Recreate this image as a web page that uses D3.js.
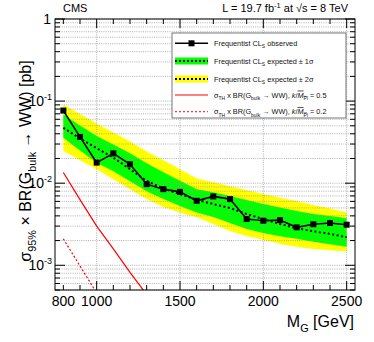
<!DOCTYPE html>
<html><head><meta charset="utf-8">
<script src="https://cdn.jsdelivr.net/npm/d3@7"></script>
<style>body{margin:0;background:#fff;} svg{display:block;font-family:"Liberation Sans",Arial,sans-serif;}</style>
</head><body>
<svg id="c" width="374" height="342"></svg>
<script>
const masses = [800,900,1000,1100,1200,1300,1400,1500,1600,1700,1800,1900,2000,2100,2200,2300,2400,2500];
const observed = [0.0767,0.0366,0.0178,0.0231,0.0170,0.00973,0.00846,0.00784,0.0061,0.0069,0.0064,0.00366,0.00349,0.00355,0.0029,0.00316,0.00327,0.00312];
const expected = [0.0473,0.0351,0.0266,0.0205,0.0148,0.01067,0.00863,0.00736,0.00628,0.00556,0.00498,0.00421,0.00366,0.00319,0.00282,0.0026,0.00241,0.0022];
const exp1Up = [0.0686,0.0505,0.0375,0.0297,0.0231,0.01747,0.01359,0.01072,0.00846,0.00778,0.00696,0.00622,0.00556,0.00505,0.00458,0.00421,0.00398,0.00373];
const exp1Down = [0.0358,0.0251,0.0178,0.01398,0.01057,0.0080,0.0064,0.00526,0.00441,0.00387,0.00327,0.00277,0.00248,0.00225,0.0021,0.00193,0.0018,0.00168];
const exp2Up = [0.0907,0.0696,0.0534,0.0415,0.0323,0.0244,0.0190,0.01478,0.0114,0.01028,0.0092,0.00823,0.00736,0.00667,0.00605,0.00541,0.00491,0.00441];
const exp2Down = [0.0246,0.0190,0.01478,0.01118,0.00846,0.0064,0.00512,0.00439,0.00384,0.00318,0.00262,0.00228,0.00204,0.00182,0.00168,0.00158,0.00152,0.00147];
const thMass05 = [800,900,1000,1100,1200,1300];
const theory05 = [0.0135,0.0063,0.0030,0.00158,0.00082,0.00044];
const thMass02 = [800,900,1000,1100];
const theory02 = [0.0021,0.00098,0.00046,0.00022];
const xTickLabels = [800,1000,1500,2000,2500];
const xGridTicks = [1000,1500,2000,2500];
const yTickLabels = [[1,""],[0.1,"-1"],[0.01,"-2"],[0.001,"-3"]];

const svg = d3.select("#c");
const L=55,R=355,T=19,B=290;
const x = d3.scaleLinear().domain([750,2550]).range([L,R]);
const y = d3.scaleLog().domain([5e-4,1]).range([B,T]);

const yMinor = [];
for (let e=-4;e<=0;e++) for (let m=1;m<10;m++){const v=m*Math.pow(10,e); if(v>=5e-4 && v<=1.0001) yMinor.push(v);}

svg.append("clipPath").attr("id","clip").append("rect").attr("x",L).attr("y",T).attr("width",R-L).attr("height",B-T);
const plot = svg.append("g").attr("clip-path","url(#clip)");
const idx = d3.range(masses.length);
const band = (lo,hi)=>d3.area().x(i=>x(masses[i])).y0(i=>y(lo[i])).y1(i=>y(hi[i]));
plot.append("path").attr("d",band(exp2Down,exp2Up)(idx)).attr("fill","#ffff00");
plot.append("path").attr("d",band(exp1Down,exp1Up)(idx)).attr("fill","#00ff00");

// grid (drawn over the bands, as in the reference)
const grid = svg.append("g").attr("stroke","#9a9a9a").attr("stroke-width",0.8).attr("stroke-dasharray","1,1.2");
grid.selectAll("line.h").data(yMinor).join("line").attr("x1",L).attr("x2",R).attr("y1",d=>y(d)).attr("y2",d=>y(d));
grid.selectAll("line.v").data(xGridTicks).join("line").attr("y1",T).attr("y2",B).attr("x1",d=>x(d)).attr("x2",d=>x(d));

const plot2 = svg.append("g").attr("clip-path","url(#clip)");
const line = (arr,ms)=>d3.line().x(i=>x(ms[i])).y(i=>y(arr[i]));
plot2.append("path").attr("d",line(expected,masses)(idx)).attr("fill","none").attr("stroke","#000").attr("stroke-width",2).attr("stroke-dasharray","2,2.5");
plot2.append("path").attr("d",line(theory05,thMass05)(d3.range(thMass05.length))).attr("fill","none").attr("stroke","#ff0000").attr("stroke-width",1.2);
plot2.append("path").attr("d",line(theory02,thMass02)(d3.range(thMass02.length))).attr("fill","none").attr("stroke","#ff0000").attr("stroke-width",1.2).attr("stroke-dasharray","2,2");
plot2.append("path").attr("d",line(observed,masses)(idx)).attr("fill","none").attr("stroke","#000").attr("stroke-width",1.6);
plot2.selectAll("rect.m").data(idx).join("rect").attr("x",i=>x(masses[i])-3).attr("y",i=>y(observed[i])-3).attr("width",6).attr("height",6).attr("fill","#000");

// frame
svg.append("rect").attr("x",L).attr("y",T).attr("width",R-L).attr("height",B-T).attr("fill","none").attr("stroke","#000").attr("stroke-width",1);

// ticks
const tk = svg.append("g").attr("stroke","#000").attr("stroke-width",1);
const xT = d3.range(800,2501,100);
xT.forEach(v=>{const len = (v%500===0)?9:5; const px=x(v);
  tk.append("line").attr("x1",px).attr("x2",px).attr("y1",B).attr("y2",B-len);
  tk.append("line").attr("x1",px).attr("x2",px).attr("y1",T).attr("y2",T+len);});
yMinor.forEach(v=>{const l=Math.log10(v); const major=Math.abs(l-Math.round(l))<1e-9; const len=major?10:5; const py=y(v);
  tk.append("line").attr("x1",L).attr("x2",L+len).attr("y1",py).attr("y2",py);
  tk.append("line").attr("x1",R).attr("x2",R-len).attr("y1",py).attr("y2",py);});

// tick labels
svg.selectAll("text.xl").data(xTickLabels).join("text").attr("x",d=>x(d)).attr("y",306).attr("text-anchor","middle").attr("font-size",14).text(d=>d);
yTickLabels.forEach(([v,sup])=>{
  const t = svg.append("text").attr("x",sup?52:51).attr("y",y(v)+5).attr("text-anchor","end").attr("font-size",14);
  if(!sup){t.text("1");} else {t.append("tspan").text("10"); t.append("tspan").attr("font-size",9).attr("dy",-6).text(sup);}
});

function rich(t, parts, size){
  let off=0;
  parts.forEach(p=>{
    let s = typeof p==="string"?{t:p}:p;
    const sp = t.append("tspan").text(s.t);
    let target=0;
    if(s.sub){ sp.attr("font-size",size*0.68); target=size*0.32; }
    if(s.sup){ sp.attr("font-size",size*0.68); target=-size*0.4; }
    if(s.i) sp.attr("font-style","italic");
    if(s.ol) sp.attr("text-decoration","overline");
    if(target!==off){ sp.attr("dy",target-off); off=target; }
  });
}

const xt = svg.append("text").attr("x",354).attr("y",327).attr("text-anchor","end").attr("font-size",16);
rich(xt,["M",{t:"G",sub:1}," [GeV]"],16);
const yt = svg.append("text").attr("transform","translate(31,161) rotate(-90)").attr("text-anchor","middle").attr("font-size",16);
rich(yt,["σ",{t:"95%",sub:1}," × BR(G",{t:"bulk",sub:1}," → WW) [pb]"],16);

svg.append("text").attr("x",63).attr("y",12).attr("font-size",11).text("CMS");
const hd = svg.append("text").attr("x",348).attr("y",12).attr("text-anchor","end").attr("font-size",11);
rich(hd,["L = 19.7 fb",{t:"-1",sup:1}," at  √s = 8 TeV"],11);

const lg = svg.append("g");
lg.append("rect").attr("x",172).attr("y",33).attr("width",174).attr("height",85).attr("fill","#fff").attr("stroke","#555").attr("stroke-width",0.8);
const rows=[43.3,61,79,95,111.7];
const x0=175,x1=208,tx=214,fs=7.3;
lg.append("line").attr("x1",x0).attr("x2",x1).attr("y1",rows[0]).attr("y2",rows[0]).attr("stroke","#000").attr("stroke-width",1.6);
lg.append("rect").attr("x",(x0+x1)/2-3).attr("y",rows[0]-3).attr("width",6).attr("height",6).attr("fill","#000");
[["#00ff00",rows[1]],["#ffff00",rows[2]]].forEach(([c,ry])=>{
  lg.append("rect").attr("x",x0).attr("y",ry-3.5).attr("width",x1-x0).attr("height",7).attr("fill",c);
  lg.append("line").attr("x1",x0).attr("x2",x1).attr("y1",ry).attr("y2",ry).attr("stroke","#000").attr("stroke-width",2).attr("stroke-dasharray","2,2");
});
lg.append("line").attr("x1",x0).attr("x2",x1).attr("y1",rows[3]).attr("y2",rows[3]).attr("stroke","#ff0000").attr("stroke-width",1);
lg.append("line").attr("x1",x0).attr("x2",x1).attr("y1",rows[4]).attr("y2",rows[4]).attr("stroke","#ff0000").attr("stroke-width",1).attr("stroke-dasharray","2,2");
const legTexts = [
  ["Frequentist CL",{t:"S",sub:1}," observed"],
  ["Frequentist CL",{t:"S",sub:1}," expected ± 1σ"],
  ["Frequentist CL",{t:"S",sub:1}," expected ± 2σ"],
  ["σ",{t:"TH",sub:1}," x BR(G",{t:"bulk",sub:1}," → WW), ",{t:"k",i:1},"/",{t:"M",i:1,ol:1},{t:"Pl",sub:1,ol:1}," = 0.5"],
  ["σ",{t:"TH",sub:1}," x BR(G",{t:"bulk",sub:1}," → WW), ",{t:"k",i:1},"/",{t:"M",i:1,ol:1},{t:"Pl",sub:1,ol:1}," = 0.2"]
];
legTexts.forEach((p,i)=>{const t=lg.append("text").attr("x",tx).attr("y",rows[i]+2.6).attr("font-size",fs).attr("fill","#111"); rich(t,p,fs);});
</script>
</body></html>
